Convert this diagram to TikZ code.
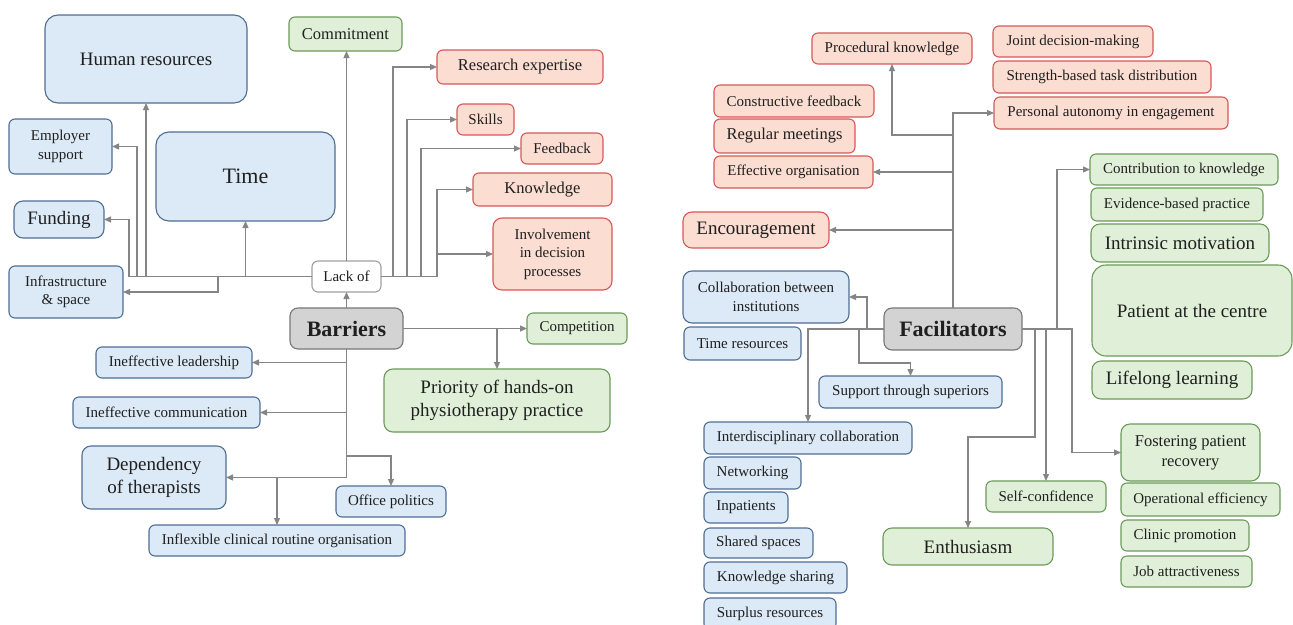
\documentclass[tikz,border=0pt]{standalone}
\usepackage{fontspec}
\setmainfont{Liberation Serif}
\usetikzlibrary{arrows.meta}
\definecolor{bfill}{HTML}{DCE9F6}
\definecolor{bdraw}{HTML}{4F6E93}
\definecolor{gfill}{HTML}{E0F0D8}
\definecolor{gdraw}{HTML}{6B9A5B}
\definecolor{rfill}{HTML}{FBDDD2}
\definecolor{rdraw}{HTML}{D9575A}
\definecolor{kfill}{HTML}{D3D3D3}
\definecolor{kdraw}{HTML}{777777}
\definecolor{wdraw}{HTML}{A0A0A0}
\definecolor{arrc}{HTML}{858585}
\tikzset{
 base/.style={rounded corners=6pt, line width=1.1pt, inner sep=1pt, outer sep=0pt, align=center, text=black!88, font=\fontsize{15}{18.5}\selectfont},
 bbox/.style={base, fill=bfill, draw=bdraw},
 gbox/.style={base, fill=gfill, draw=gdraw},
 rbox/.style={base, fill=rfill, draw=rdraw},
 kbox/.style={base, fill=kfill, draw=kdraw, font=\fontsize{22}{26}\selectfont\bfseries, rounded corners=8pt},
 wbox/.style={base, fill=white, draw=wdraw},
 big/.style={font=\fontsize{19}{23}\selectfont, rounded corners=9pt},
 mid/.style={font=\fontsize{16.5}{20}\selectfont},
 arr/.style={draw=arrc, line width=1.2pt, -{Triangle[length=7pt,width=6pt]}},
}
\newcommand\bx[7]{\node[#1, anchor=north west, minimum width={(#5)-(#3)}, minimum height={(#6)-(#4)}] (#2) at (#3,#4) {#7};}
\begin{document}
\begin{tikzpicture}[x=1pt,y=-1pt]
\useasboundingbox (0,0) rectangle (1293,624);
% ---------- Barriers side ----------
\bx{bbox,big,rounded corners=13pt}{hr}{45}{15}{247}{103}{Human resources}
\bx{bbox}{emp}{9}{119}{112}{174}{Employer\\support}
\bx{bbox,big,rounded corners=13pt,font=\fontsize{22}{26}\selectfont}{time}{156}{132}{335}{221}{Time}
\bx{bbox,big}{fund}{14}{201}{104}{238}{Funding}
\bx{bbox}{infra}{9}{266}{123}{318}{Infrastructure\\\& space}
\bx{wbox}{lack}{312}{261}{381}{292}{Lack of}
\bx{gbox,mid}{commit}{289}{17}{402}{51}{Commitment}
\bx{rbox,mid}{research}{437}{50}{603}{84}{Research expertise}
\bx{rbox}{skills}{457}{104}{514}{135}{Skills}
\bx{rbox}{feed}{521}{133}{603}{164}{Feedback}
\bx{rbox,mid}{know}{473}{173}{612}{206}{Knowledge}
\bx{rbox,rounded corners=9pt}{invol}{493}{218}{612}{290}{Involvement\\in decision\\processes}
\bx{kbox}{barr}{290}{308}{403}{349}{Barriers}
\bx{gbox}{comp}{527}{313}{627}{344}{Competition}
\bx{gbox,big}{prio}{384}{369}{610}{432}{Priority of hands-on\\physiotherapy practice}
\bx{bbox}{lead}{96}{347}{252}{378}{Ineffective leadership}
\bx{bbox}{comm}{73}{397}{260}{428}{Ineffective communication}
\bx{bbox,big}{dep}{82}{446}{226}{509}{Dependency\\of therapists}
\bx{bbox}{inflex}{149}{525}{405}{556}{Inflexible clinical routine organisation}
\bx{bbox}{office}{336}{486}{446}{517}{Office politics}
% ---------- Facilitators side ----------
\bx{rbox}{proc}{812}{33}{972}{64}{Procedural knowledge}
\bx{rbox}{joint}{993}{26}{1153}{57}{Joint decision-making}
\bx{rbox}{strength}{993}{61}{1211}{93}{Strength-based task distribution}
\bx{rbox}{auto}{994}{97}{1228}{129}{Personal autonomy in engagement}
\bx{rbox}{constr}{714}{85}{874}{117}{Constructive feedback}
\bx{rbox,mid}{regular}{714}{119}{855}{153}{Regular meetings}
\bx{rbox}{effect}{714}{156}{873}{188}{Effective organisation}
\bx{rbox,big}{encour}{683}{212}{829}{248}{Encouragement}
\bx{bbox,rounded corners=9pt}{collab}{683}{271}{849}{323}{Collaboration between\\institutions}
\bx{bbox}{timeres}{684}{327}{801}{360}{Time resources}
\bx{kbox}{fac}{884}{308}{1022}{350}{Facilitators}
\bx{bbox}{support}{819}{376}{1002}{408}{Support through superiors}
\bx{bbox}{inter}{704}{422}{912}{454}{Interdisciplinary collaboration}
\bx{bbox}{netw}{704}{457}{801}{489}{Networking}
\bx{bbox}{inpat}{704}{492}{788}{523}{Inpatients}
\bx{bbox}{shared}{704}{528}{813}{558}{Shared spaces}
\bx{bbox}{kshare}{704}{562}{847}{593}{Knowledge sharing}
\bx{bbox}{surplus}{704}{598}{836}{630}{Surplus resources}
\bx{gbox,big}{enth}{883}{528}{1053}{565}{Enthusiasm}
\bx{gbox}{selfc}{986}{481}{1106}{512}{Self-confidence}
\bx{gbox}{contrib}{1090}{154}{1278}{185}{Contribution to knowledge}
\bx{gbox}{evid}{1091}{188}{1263}{221}{Evidence-based practice}
\bx{gbox,big}{intr}{1091}{224}{1269}{262}{Intrinsic motivation}
\bx{gbox,big,rounded corners=14pt}{patient}{1092}{265}{1292}{356}{Patient at the centre}
\bx{gbox,big}{life}{1092}{361}{1252}{399}{Lifelong learning}
\bx{gbox,mid,rounded corners=9pt}{foster}{1121}{424}{1260}{481}{Fostering patient\\recovery}
\bx{gbox}{oper}{1121}{483}{1280}{516}{Operational efficiency}
\bx{gbox}{clinic}{1121}{520}{1249}{551}{Clinic promotion}
\bx{gbox}{job}{1121}{556}{1252}{587}{Job attractiveness}
% ---------- connectors: Barriers ----------
\draw[arr] (lack.west) -| ([xshift=25pt]fund.east) -- (fund.east);
\draw[arr] (lack.west) -| ([xshift=25pt]emp.east) -- (emp.east);
\draw[arr] (lack.west) -| (hr.south);
\draw[arr] (lack.west) -| (time.south);
\draw[arr] (lack.west) -| ([xshift=95pt]infra.east) -- (infra.east);
\draw[arr] (lack.north) -- (lack.north |- commit.south);
\draw[arr] (lack.east) -| ([xshift=-44pt]research.west) -- (research.west);
\draw[arr] (lack.east) -| ([xshift=-50pt]skills.west) -- (skills.west);
\draw[arr] (lack.east) -| ([xshift=-100pt]feed.west) -- (feed.west);
\draw[arr] (lack.east) -| ([xshift=-36pt]know.west) -- (know.west);
\draw[arr] (lack.east) -| ([xshift=-56pt]invol.west) -- (invol.west);
\draw[arr] (barr.north) -- (lack.south);
\draw[arr] (barr.east) -- (comp.west);
\draw[arr] (barr.east) -| (prio.north);
\draw[arr] (barr.south) |- (lead.east);
\draw[arr] (barr.south) |- (comm.east);
\draw[arr] (barr.south) |- (dep.east);
\draw[arr] (barr.south) |- (inflex.north |- dep.east) -- (inflex.north);
\draw[arr] (barr.south) -- ([yshift=-107pt]barr.south) -| (office.north);
% ---------- connectors: Facilitators ----------
\draw[arr] (fac.north) |- (auto.west);
\draw[arr] (fac.north) -- ([yshift=173pt]fac.north) -| (proc.south);
\draw[arr] (fac.north) |- (effect.east);
\draw[arr] (fac.north) |- (encour.east);
\draw[arr] (fac.west) -| ([xshift=18pt]collab.east) -- (collab.east);
\draw[arr] (fac.west) -- ([xshift=-25pt]fac.west) |- ([yshift=13pt]support.north) -- (support.north);
\draw[arr] (fac.west) -| (inter.north);
\draw[arr] (fac.east) -| ([xshift=-33pt]contrib.west) -- (contrib.west);
\draw[arr] (fac.east) -- ([xshift=13pt]fac.east) |- ([yshift=91pt]enth.north) -- (enth.north);
\draw[arr] (fac.east) -| (selfc.north);
\draw[arr] (fac.east) -| ([xshift=-49pt]foster.west) -- (foster.west);
\end{tikzpicture}
\end{document}
